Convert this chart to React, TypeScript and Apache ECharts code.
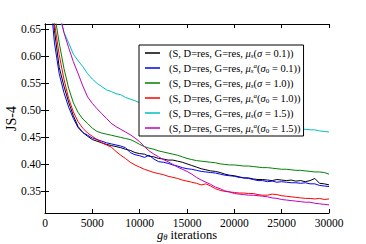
import React, { useEffect, useRef } from "react";
import * as echarts from "echarts";

const F = "serif";

const ITER = [
  0, 500, 1000, 1500, 2000, 2500, 3000, 3500, 4000, 4500, 5000, 5500, 6000, 6500, 7000, 7500,
  8000, 8500, 9000, 9500, 10000, 10500, 11000, 11500, 12000, 12500, 13000, 13500, 14000, 14500,
  15000, 15500, 16000, 16500, 17000, 17500, 18000, 18500, 19000, 19500, 20000, 20500, 21000,
  21500, 22000, 22500, 23000, 23500, 24000, 24500, 25000, 25500, 26000, 26500, 27000, 27500,
  28000, 28500, 29000, 29500, 30000,
];

const BLACK = [
  0.98, 0.76, 0.648, 0.58, 0.545, 0.515, 0.49, 0.47, 0.459, 0.452, 0.446, 0.443, 0.44, 0.437,
  0.435, 0.433, 0.431, 0.428, 0.426, 0.422, 0.42, 0.419, 0.415, 0.414, 0.411, 0.41, 0.408, 0.408,
  0.406, 0.404, 0.401, 0.398, 0.395, 0.392, 0.39, 0.388, 0.387, 0.385, 0.382, 0.38, 0.379, 0.377,
  0.375, 0.375, 0.373, 0.372, 0.372, 0.371, 0.37, 0.372, 0.371, 0.37, 0.371, 0.369, 0.37, 0.368,
  0.37, 0.374, 0.365, 0.364, 0.362,
];
const BLUE = [
  0.96, 0.72, 0.625, 0.568, 0.533, 0.506, 0.485, 0.468, 0.459, 0.454, 0.449, 0.446, 0.443, 0.44,
  0.438, 0.436, 0.434, 0.431, 0.422, 0.418, 0.416, 0.413, 0.417, 0.41, 0.405, 0.404, 0.402, 0.399,
  0.397, 0.394, 0.392, 0.391, 0.389, 0.387, 0.386, 0.385, 0.384, 0.382, 0.38, 0.379, 0.378, 0.376,
  0.375, 0.374, 0.372, 0.37, 0.37, 0.368, 0.369, 0.367, 0.368, 0.367, 0.366, 0.366, 0.365, 0.366,
  0.364, 0.364, 0.361, 0.36, 0.359,
];
const GREEN = [
  1.0, 0.82, 0.68, 0.625, 0.578, 0.541, 0.514, 0.496, 0.484, 0.476, 0.467, 0.461, 0.458, 0.456,
  0.454, 0.452, 0.45, 0.448, 0.446, 0.442, 0.437, 0.433, 0.43, 0.428, 0.425, 0.423, 0.421, 0.419,
  0.417, 0.414, 0.411, 0.409, 0.407, 0.406, 0.405, 0.404, 0.403, 0.401, 0.4, 0.399, 0.399, 0.398,
  0.397, 0.397, 0.396, 0.395, 0.394, 0.394, 0.393, 0.392, 0.391, 0.391, 0.39, 0.389, 0.389, 0.388,
  0.387, 0.386, 0.386, 0.385, 0.382,
];
const RED = [
  1.0, 0.8, 0.662, 0.603, 0.558, 0.522, 0.497, 0.479, 0.467, 0.458, 0.452, 0.446, 0.44, 0.436,
  0.432, 0.424, 0.417, 0.411, 0.404, 0.399, 0.395, 0.391, 0.388, 0.385, 0.383, 0.381, 0.378, 0.376,
  0.374, 0.371, 0.369, 0.367, 0.365, 0.362, 0.364, 0.36, 0.355, 0.352, 0.35, 0.349, 0.348, 0.347,
  0.347, 0.346, 0.346, 0.344, 0.343, 0.343, 0.345, 0.344, 0.342, 0.341, 0.34, 0.339, 0.338, 0.337,
  0.337, 0.336, 0.337, 0.335, 0.336,
];
const CYAN = [
  1.2, 1.0, 0.8, 0.675, 0.645, 0.625, 0.604, 0.592, 0.581, 0.568, 0.558, 0.55, 0.544, 0.538, 0.535,
  0.531, 0.529, 0.524, 0.521, 0.518, 0.514, 0.511, 0.508, 0.505, 0.502, 0.5, 0.497, 0.495, 0.493,
  0.491, 0.489, 0.487, 0.486, 0.484, 0.483, 0.481, 0.48, 0.479, 0.478, 0.477, 0.476, 0.475, 0.474,
  0.473, 0.472, 0.471, 0.47, 0.47, 0.469, 0.468, 0.467, 0.467, 0.466, 0.466, 0.465, 0.465, 0.464,
  0.464, 0.462, 0.461, 0.46,
];
const MAGENTA = [
  1.1, 0.95, 0.78, 0.685, 0.644, 0.616, 0.59, 0.568, 0.545, 0.525, 0.513, 0.503, 0.494, 0.485,
  0.476, 0.47, 0.465, 0.46, 0.455, 0.449, 0.442, 0.433, 0.425, 0.419, 0.414, 0.409, 0.405, 0.4,
  0.395, 0.391, 0.387, 0.382, 0.376, 0.371, 0.367, 0.363, 0.358, 0.355, 0.351, 0.349, 0.346, 0.345,
  0.344, 0.343, 0.343, 0.342, 0.341, 0.34, 0.338, 0.337, 0.335, 0.334, 0.333, 0.332, 0.331, 0.33,
  0.33, 0.328, 0.327, 0.326, 0.325,
];

const NAMES = [
  "(S, D=res, G=res, μs(σ=0.1))",
  "(S, D=res, G=res, μs^a(σ0=0.1))",
  "(S, D=res, G=res, μs(σ=1.0))",
  "(S, D=res, G=res, μs^a(σ0=1.0))",
  "(S, D=res, G=res, μs(σ=1.5))",
  "(S, D=res, G=res, μs^a(σ0=1.5))",
];
const LABELS = [
  "(S, D=res, G=res, {it|μ}{sub|s}({it|σ} = 0.1))",
  "(S, D=res, G=res, {it|μ}{sub|s}{sup|a}({it|σ}{subn|0} = 0.1))",
  "(S, D=res, G=res, {it|μ}{sub|s}({it|σ} = 1.0))",
  "(S, D=res, G=res, {it|μ}{sub|s}{sup|a}({it|σ}{subn|0} = 1.0))",
  "(S, D=res, G=res, {it|μ}{sub|s}({it|σ} = 1.5))",
  "(S, D=res, G=res, {it|μ}{sub|s}{sup|a}({it|σ}{subn|0} = 1.5))",
];
const COLORS = ["#000000", "#0000ff", "#008000", "#ff0000", "#00bfbf", "#bf00bf"];
const SERIES = [BLACK, BLUE, GREEN, RED, CYAN, MAGENTA];

const Y_TICKS = [0.35, 0.4, 0.45, 0.5, 0.55, 0.6, 0.65];

export default function App() {
  const ref = useRef<HTMLDivElement>(null);
  useEffect(() => {
    if (!ref.current) return;
    const chart = echarts.init(ref.current, null, { renderer: "svg" });
    const tick = { show: true, inside: true, length: 4, lineStyle: { color: "#000", width: 1 } };
    const axLine = { show: true, lineStyle: { color: "#000", width: 1 } };
    const xBase = { type: "value", min: 0, max: 30000, interval: 5000, splitLine: { show: false }, axisLine: axLine };
    const yBase = {
      type: "value",
      min: 0.31,
      max: 0.66,
      splitLine: { show: false },
      axisLine: axLine,
    };
    const LF = 10.5;
    const SF = 7;
    chart.setOption({
      animation: false,
      backgroundColor: "#fff",
      textStyle: { fontFamily: F },
      grid: { left: 45, right: 37, top: 24, bottom: 31, containLabel: false, outerBoundsMode: "none" },
      xAxis: [
        {
          ...xBase,
          position: "bottom",
          axisTick: tick,
          axisLabel: { fontFamily: F, fontSize: 11.5, color: "#000", margin: 4, formatter: (v: number) => String(v) },
          name: "{g|g}{th|θ} iterations",
          nameLocation: "middle",
          nameGap: 15,
          nameMoveOverlap: false,
          nameTextStyle: {
            fontFamily: F,
            fontSize: 12.5,
            color: "#000",
            rich: {
              g: { fontFamily: F, fontSize: 12.5, fontStyle: "italic", color: "#000" },
              th: { fontFamily: F, fontSize: 8.5, fontStyle: "italic", color: "#000", verticalAlign: "bottom" },
            },
          },
        },
        { ...xBase, position: "top", axisTick: tick, axisLabel: { show: false } },
      ],
      yAxis: [
        {
          ...yBase,
          position: "left",
          axisTick: { ...tick, customValues: Y_TICKS },
          axisLabel: { fontFamily: F, fontSize: 11.5, color: "#000", margin: 4, customValues: Y_TICKS, formatter: (v: number) => v.toFixed(2) },
          name: "JS-4",
          nameLocation: "middle",
          nameGap: 27,
          nameMoveOverlap: false,
          nameTextStyle: { fontFamily: F, fontSize: 14, color: "#000" },
        },
        {
          ...yBase,
          position: "right",
          axisTick: { ...tick, customValues: Y_TICKS },
          axisLabel: { show: false },
        },
      ],
      legend: {
        orient: "vertical",
        left: 139,
        top: 45,
        padding: [2, 3, 2, 6],
        itemGap: 3,
        itemWidth: 15,
        itemHeight: 1.5,
        icon: "rect",
        selectedMode: false,
        backgroundColor: "#fff",
        borderColor: "#000",
        borderWidth: 1,
        borderRadius: 0,
        data: NAMES,
        formatter: (name: string) => LABELS[NAMES.indexOf(name)],
        textStyle: {
          fontFamily: F,
          fontSize: LF,
          color: "#000",
          lineHeight: 12,
          padding: [0, 0, 0, 4],
          rich: {
            it: { fontFamily: F, fontSize: LF, fontStyle: "italic", color: "#000", lineHeight: 12 },
            sub: { fontFamily: F, fontSize: SF, fontStyle: "italic", color: "#000", verticalAlign: "bottom" },
            subn: { fontFamily: F, fontSize: SF, color: "#000", verticalAlign: "bottom" },
            sup: { fontFamily: F, fontSize: SF, fontStyle: "italic", color: "#000", verticalAlign: "top" },
          },
        },
      },
      series: SERIES.map((vals, k) => ({
        type: "line",
        name: NAMES[k],
        xAxisIndex: 0,
        yAxisIndex: 0,
        showSymbol: false,
        symbol: "none",
        clip: true,
        lineStyle: { color: COLORS[k], width: 1 },
        itemStyle: { color: COLORS[k] },
        data: ITER.map((x, i) => [x, vals[i]]),
      })),
    });
    return () => chart.dispose();
  }, []);
  return <div ref={ref} style={{ position: "fixed", left: 0, top: 0, width: 366, height: 244 }} />;
}
